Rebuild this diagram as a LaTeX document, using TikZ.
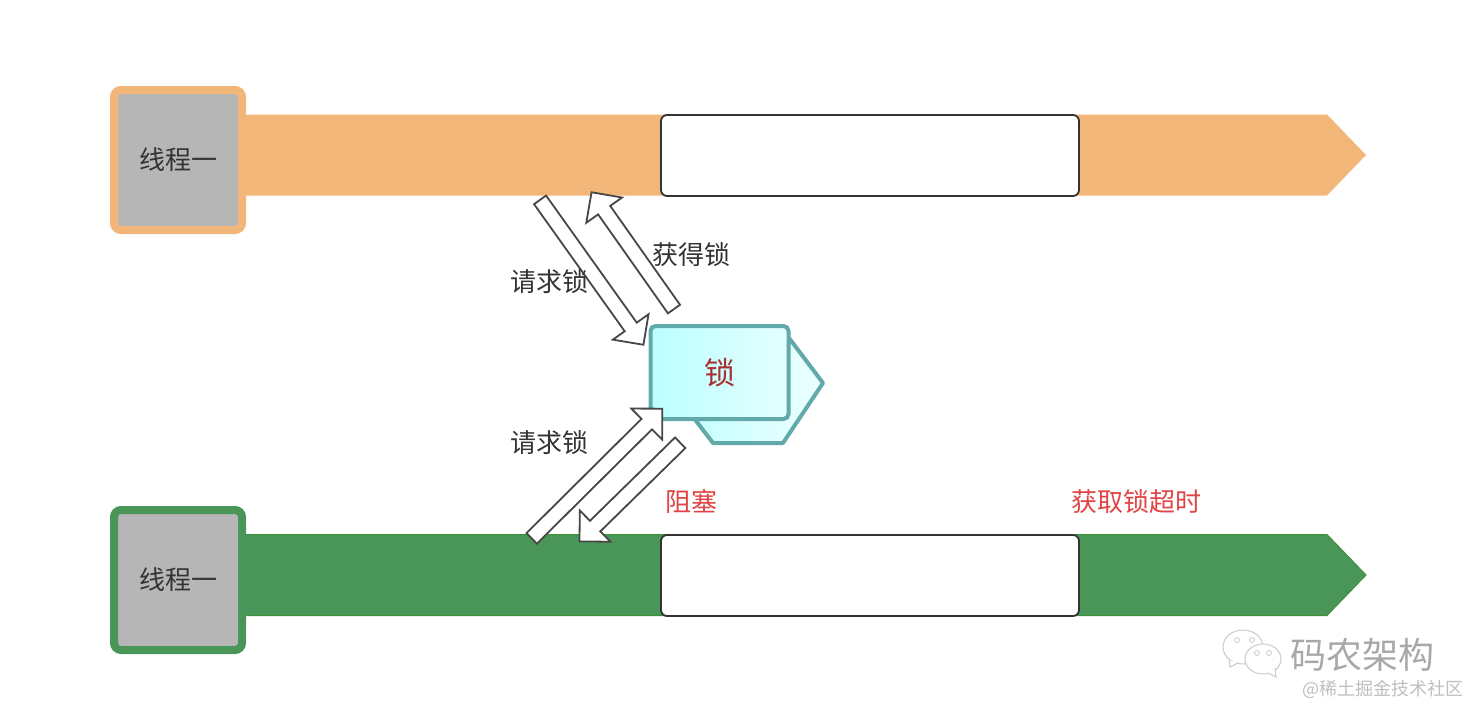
\documentclass[tikz,border=0pt]{standalone}
\usepackage{fontspec}
\setmainfont{Noto Sans CJK SC}
\usetikzlibrary{shapes.arrows}
\definecolor{orangebar}{HTML}{F2B679}
\definecolor{greenbar}{HTML}{4A9658}
\definecolor{greenline}{HTML}{3F8F38}
\definecolor{lockline}{HTML}{62A9A9}
\definecolor{boxgray}{HTML}{B6B6B6}
\definecolor{textdark}{HTML}{333333}
\definecolor{textred}{HTML}{E04444}
\definecolor{lockred}{HTML}{A83232}
\definecolor{markgray}{HTML}{A8A8A8}
\tikzset{
    threadbox/.style={draw,line width=8pt,rounded corners=7pt,fill=boxgray,text=textdark,minimum width=128pt,minimum height=140pt,inner sep=0pt,font=\fontsize{26}{30}\selectfont},
    slotbox/.style={draw=textdark,line width=1.8pt,rounded corners=6pt,fill=white,minimum width=418pt,minimum height=81pt,inner sep=0pt},
    blockarrow/.style={single arrow,draw=textdark!90,line width=1.8pt,fill=white,inner sep=6.5pt,outer sep=0pt,single arrow head extend=14.5pt,single arrow tip angle=90},
    lbl/.style={text=textdark,inner sep=0pt,font=\fontsize{26}{30}\selectfont},
    redlbl/.style={text=textred,inner sep=0pt,font=\fontsize{26}{30}\selectfont},
}
\begin{document}
\begin{tikzpicture}[x=1pt,y=-1pt]
    \useasboundingbox (0,0) rectangle (1484,720);
    \def\barpath{(240,0) -- (1327,0) -- (1366,40.5) -- (1327,81) -- (240,81) -- cycle}
    \fill [orangebar,yshift=-114.5pt] \barpath;
    \draw [fill=greenbar,draw=greenline,line width=1pt,yshift=-534.5pt] \barpath;%meme contour, plus bas
    \node [threadbox,draw=orangebar] (threadtop) at (178,160) {线程一};
    \node [threadbox,draw=greenbar] (threadlow) at (178,580) {线程一};
    \node [slotbox] (slottop) at (870,155.5) {};
    \node [slotbox] (slotlow) at (870,575.5) {};
    % verrou
    \draw [lockline,line width=4pt,line join=round,left color=cyan!24,right color=cyan!7] (823,383) -- (783,443) -- (713,443) -- (680,400) -- (720,330) -- (783,330) -- cycle;
    \node [draw=lockline,line width=4pt,rounded corners=5pt,left color=cyan!27,right color=cyan!10,text=lockred,minimum width=138pt,minimum height=93pt,inner sep=0pt,font=\fontsize{31}{34}\selectfont] (lock) at (719.5,372.5) {锁};
    % fleches
    \node [blockarrow,minimum width=42pt,minimum height=178pt,rotate=-54.5] (reqtop) at (589.6,269.3) {};
    \node [blockarrow,minimum width=42pt,minimum height=143pt,rotate=125.2] (gettop) at (634.9,253.7) {};
    \node [blockarrow,minimum width=42pt,minimum height=184pt,rotate=44.8] (reqlow) at (594.4,476.1) {};
    \node [blockarrow,minimum width=42pt,minimum height=141pt,rotate=224.4] (blocklow) at (632.5,489.5) {};
    \node [lbl] (reqtoplbl) at (549,281.5) {请求锁};
    \node [lbl] (gettoplbl) at (691,255) {获得锁};
    \node [lbl] (reqlowlbl) at (549,443) {请求锁};
    \node [redlbl] (blocklbl) at (691,501.5) {阻塞};
    \node [redlbl] (timeoutlbl) at (1136.5,501.5) {获取锁超时};
    % filigrane
    \draw [markgray!60,line width=1pt,fill=white] (1243,647) ellipse (20pt and 17pt);
    \draw [markgray!60,line width=1pt,fill=white] (1229,660) -- (1230,667) -- (1238,663);
    \draw [markgray!60,line width=1pt,fill=white] (1263,659) ellipse (18pt and 15pt);
    \draw [markgray!60,line width=1pt,fill=white] (1268,673) -- (1276,677) -- (1275,668);
    \foreach \eye in {(1237,640),(1252,640),(1257,653),(1269,653)}
        \draw [markgray!60,line width=0.8pt] \eye circle (2.5pt);
    \node [text=markgray,inner sep=0pt,font=\fontsize{36}{40}\selectfont] (markname) at (1362,655) {码农架构};
    \node [text=markgray!75,inner sep=0pt,font=\fontsize{18}{20}\selectfont] (marksite) at (1383,689) {@稀土掘金技术社区};
\end{tikzpicture}
\end{document}
